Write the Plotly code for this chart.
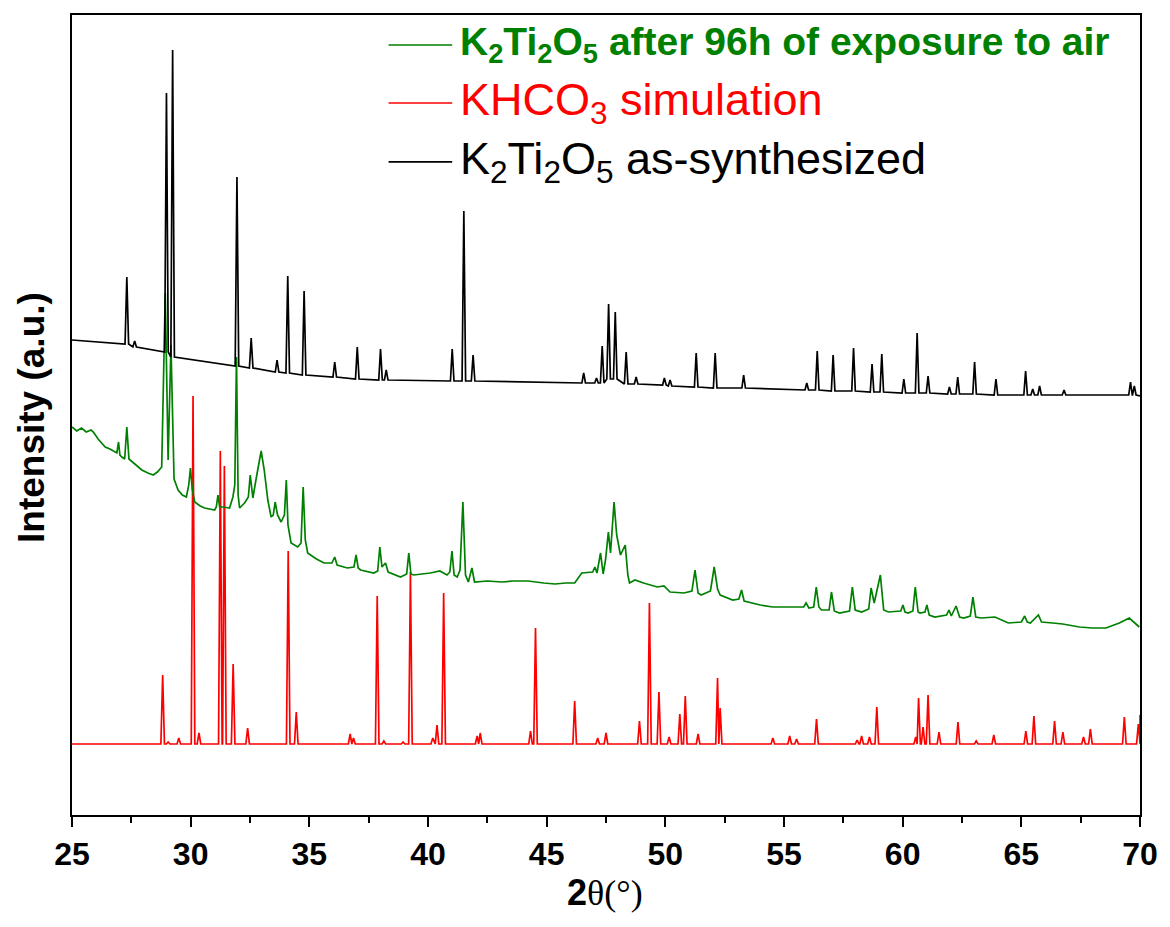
import plotly.graph_objects as go

# ---------------- data (2θ in degrees, intensity in offset a.u.) ----------------
# K2Ti2O5 as-synthesized: reflection positions, apex intensities and local background
black_pos = [27.31, 27.64, 28.98, 29.24, 31.95, 32.55, 33.64, 34.09, 34.78, 36.07,
             37.02, 38.00, 38.24, 41.02, 41.51, 41.90, 46.56, 47.10, 47.34, 47.61,
             47.89, 48.35, 48.77, 49.96, 50.20, 51.30, 52.10, 53.30, 55.96, 56.40,
             57.07, 57.93, 58.71, 59.12, 60.05, 60.61, 61.07, 61.97, 62.32, 63.03,
             63.93, 65.18, 65.48, 65.77, 66.80, 69.60, 69.76]
black_top = [538, 474, 722, 765, 638, 477, 455, 539, 524, 453,
             468, 466, 445, 466, 604, 460, 442, 437, 469, 511,
             503, 463, 438, 437, 435, 462, 462, 440, 432, 464,
             460, 467, 451, 461, 436, 482, 439, 428, 438, 453,
             436, 444, 426, 429, 425, 433, 429]
black_foot = [471, 468, 463, 458, 449, 447, 443, 442, 440, 438,
              436, 435, 435, 434, 434, 434, 432, 432, 432, 436,
              436, 431, 431, 430, 429, 428, 427, 427, 425, 425,
              424, 424, 423, 423, 422, 422, 422, 421, 421, 421,
              420, 420, 420, 420, 420, 420, 420]
black_start = (25.0, 475)
black_end = (70.0, 419)

# KHCO3 simulated pattern: reflection positions and apex intensities
red_pos = [28.82, 29.05, 29.50, 30.10, 30.35, 31.25, 31.42, 31.79, 32.40, 34.11,
           34.45, 36.72, 36.86, 37.86, 38.14, 38.95, 39.26, 40.20, 40.38, 40.66,
           42.07, 42.20, 44.32, 44.53, 46.18, 47.15, 47.50, 48.91, 49.33, 49.73,
           50.16, 50.61, 50.84, 51.38, 52.20, 52.31, 54.53, 55.24, 55.53, 56.37,
           58.08, 58.27, 58.60, 58.91, 60.55, 60.67, 60.86, 61.07, 61.53, 62.33,
           63.10, 63.84, 65.19, 65.53, 66.40, 66.75, 67.62, 67.91, 69.34, 69.93]
red_top = [140, 73, 77, 419, 82, 364, 349, 151, 87, 264,
           103, 81, 77, 219, 74, 73, 243, 77, 90, 222,
           79, 82, 84, 187, 114, 77, 82, 94, 212, 123,
           78, 101, 119, 81, 137, 107, 77, 79, 76, 96,
           75, 79, 78, 108, 78, 117, 88, 120, 83, 93,
           74, 80, 84, 99, 94, 83, 78, 86, 98, 91]
red_baseline = 71

# K2Ti2O5 after 96 h in air: measured profile
green_x = [25.00, 25.20, 25.40, 25.60, 25.80, 25.90, 26.10, 26.40, 26.60, 26.89,
           26.96, 27.02, 27.10, 27.22, 27.31, 27.40, 27.45, 27.70, 27.94, 28.20,
           28.42, 28.60, 28.78, 28.93, 29.05, 29.17, 29.30, 29.47, 29.65, 29.82,
           29.92, 29.99, 30.07, 30.17, 30.40, 30.59, 30.80, 31.01, 31.08, 31.15,
           31.22, 31.36, 31.64, 31.78, 31.86, 31.93, 32.00, 32.06, 32.27, 32.43,
           32.51, 32.58, 32.62, 32.75, 32.97, 33.10, 33.25, 33.39, 33.48, 33.56,
           33.66, 33.81, 33.95, 34.03, 34.10, 34.23, 34.51, 34.65, 34.74, 34.83,
           34.93, 35.30, 35.62, 35.95, 36.07, 36.17, 36.60, 36.88, 36.97, 37.06,
           37.16, 37.72, 37.88, 37.97, 38.06, 38.21, 38.32, 38.84, 39.10, 39.19,
           39.28, 39.40, 40.10, 40.50, 40.80, 40.92, 41.01, 41.10, 41.23, 41.35,
           41.47, 41.58, 41.70, 41.85, 41.96, 42.50, 43.10, 43.60, 44.21, 44.88,
           45.35, 45.80, 46.18, 46.48, 46.94, 47.03, 47.12, 47.27, 47.38, 47.48,
           47.60, 47.69, 47.84, 47.95, 48.11, 48.31, 48.42, 48.49, 48.72, 49.08,
           49.40, 49.66, 49.94, 50.20, 50.78, 51.12, 51.25, 51.38, 51.51, 51.90,
           52.06, 52.20, 52.31, 52.84, 53.10, 53.21, 53.32, 53.48, 54.00, 54.53,
           55.20, 55.83, 55.93, 56.05, 56.25, 56.36, 56.47, 56.58, 56.90, 57.00,
           57.12, 57.34, 57.76, 57.88, 58.00, 58.27, 58.57, 58.67, 58.80, 59.06,
           59.20, 59.40, 59.92, 60.01, 60.10, 60.23, 60.43, 60.53, 60.65, 60.73,
           60.94, 61.02, 61.12, 61.35, 61.85, 61.95, 62.05, 62.25, 62.40, 62.57,
           62.85, 62.96, 63.08, 63.30, 63.89, 64.45, 65.00, 65.14, 65.25, 65.38,
           65.72, 65.85, 66.32, 66.74, 67.45, 68.00, 68.57, 69.13, 69.55, 69.75,
           69.97]
green_y = [388, 384, 387, 383, 385, 383, 376, 368, 366, 362,
           373, 360, 358, 356, 388, 356, 355, 350, 345, 342,
           340, 343, 348, 522, 355, 470, 336, 325, 320, 318,
           330, 347, 325, 313, 309, 307, 306, 305, 308, 320,
           308, 308, 307, 318, 330, 458, 320, 307, 312, 318,
           340, 320, 317, 335, 364, 345, 315, 298, 300, 313,
           300, 293, 300, 335, 290, 272, 268, 272, 328, 275,
           262, 256, 252, 252, 258, 250, 247, 248, 260, 247,
           245, 242, 244, 268, 248, 252, 243, 238, 241, 262,
           241, 240, 242, 244, 240, 243, 264, 240, 238, 245,
           313, 240, 233, 247, 233, 234, 233, 234, 234, 232,
           231, 232, 232, 242, 243, 248, 242, 262, 241, 255,
           283, 262, 313, 280, 260, 270, 240, 232, 235, 232,
           230, 228, 229, 223, 222, 224, 245, 222, 220, 224,
           248, 226, 220, 215, 216, 225, 214, 213, 210, 208,
           208, 208, 212, 207, 208, 228, 208, 205, 205, 223,
           204, 202, 204, 228, 205, 203, 206, 227, 212, 240,
           205, 203, 204, 210, 203, 202, 204, 228, 203, 202,
           203, 210, 200, 198, 200, 205, 199, 209, 198, 197,
           199, 218, 198, 197, 198, 192, 193, 199, 193, 192,
           200, 193, 192, 191, 188, 187, 187, 192, 197, 193,
           188]

PEAK_HALF_WIDTH = 0.075  # drawn half-width of a sharp reflection, degrees


def stick_profile(start, end, pos, top, foot, hw):
    """Polyline through each reflection: foot, apex, foot (feet never cross a neighbour)."""
    xs, ys = [start[0]], [start[1]]
    n = len(pos)
    for i in range(n):
        left = pos[i] - hw
        right = pos[i] + hw
        if i > 0:
            left = max(left, (pos[i - 1] + pos[i]) / 2)
        if i < n - 1:
            right = min(right, (pos[i] + pos[i + 1]) / 2)
        xs += [left, pos[i], right]
        ys += [foot[i], top[i], foot[i]]
    xs.append(end[0])
    ys.append(end[1])
    return xs, ys


bx, by = stick_profile(black_start, black_end, black_pos, black_top, black_foot, PEAK_HALF_WIDTH)
red_foot = [red_baseline] * len(red_pos)
rx, ry = stick_profile((25.0, red_baseline), (70.0, 100), red_pos, red_top, red_foot, PEAK_HALF_WIDTH)

GREEN = "#008000"
RED = "#FF0000"
BLACK = "#000000"
FONT = "Liberation Sans, Arial, sans-serif"
SERIF = "Liberation Serif, Times New Roman, serif"

fig = go.Figure()
fig.add_trace(go.Scatter(x=rx, y=ry, mode="lines", line=dict(color=RED, width=1.7),
                         name="KHCO<sub>3</sub> simulation", showlegend=False))
fig.add_trace(go.Scatter(x=green_x, y=green_y, mode="lines", line=dict(color=GREEN, width=1.7),
                         name="K<sub>2</sub>Ti<sub>2</sub>O<sub>5</sub> after 96h of exposure to air",
                         showlegend=False))
fig.add_trace(go.Scatter(x=bx, y=by, mode="lines", line=dict(color=BLACK, width=1.7),
                         name="K<sub>2</sub>Ti<sub>2</sub>O<sub>5</sub> as-synthesized", showlegend=False))

# legend drawn as line samples + coloured labels
legend_rows = [
    (GREEN, "<b>K<sub>2</sub>Ti<sub>2</sub>O<sub>5</sub> after 96h of exposure to air</b>", 0.9625, 39),
    (RED, "KHCO<sub>3</sub> simulation", 0.890, 45),
    (BLACK, "K<sub>2</sub>Ti<sub>2</sub>O<sub>5</sub> as-synthesized", 0.8163, 45),
]
for color, label, yp, size in legend_rows:
    fig.add_shape(type="line", xref="paper", yref="paper", x0=0.2964, x1=0.3560, y0=yp, y1=yp,
                  line=dict(color=color, width=1.7))
    fig.add_annotation(xref="paper", yref="paper", x=0.3616, y=yp, xanchor="left", yanchor="middle",
                       text=label, showarrow=False, font=dict(family=FONT, size=size, color=color))

# axis titles
fig.add_annotation(xref="paper", yref="paper", x=0.4995, y=-0.0975, xanchor="center", yanchor="middle",
                   text="<b>2</b><span style='font-family:" + SERIF + "'>θ(°)</span>",
                   showarrow=False, font=dict(family=FONT, size=36, color=BLACK))
fig.add_annotation(xref="paper", yref="paper", x=-0.0375, y=0.4975, xanchor="center", yanchor="middle",
                   text="<b>Intensity (a.u.)</b>", textangle=-90, showarrow=False,
                   font=dict(family=FONT, size=37, color=BLACK))

fig.update_layout(
    width=1170, height=927,
    margin=dict(l=72, r=25, t=15, b=112),
    paper_bgcolor="white", plot_bgcolor="white",
    showlegend=False,
)
fig.update_xaxes(
    range=[25, 70], tickmode="linear", tick0=25, dtick=5,
    ticks="outside", ticklen=10, tickwidth=2, tickcolor=BLACK,
    minor=dict(ticks="outside", ticklen=6, tickwidth=2, tickcolor=BLACK, dtick=2.5, tick0=25),
    showline=True, linewidth=2, linecolor=BLACK, mirror=True,
    showgrid=False, zeroline=False,
    tickfont=dict(family=FONT, size=32, color=BLACK, weight="bold"),
)
fig.update_yaxes(
    range=[0, 800], showticklabels=False, ticks="",
    showline=True, linewidth=2, linecolor=BLACK, mirror=True,
    showgrid=False, zeroline=False,
)

fig.write_html("out.html")
